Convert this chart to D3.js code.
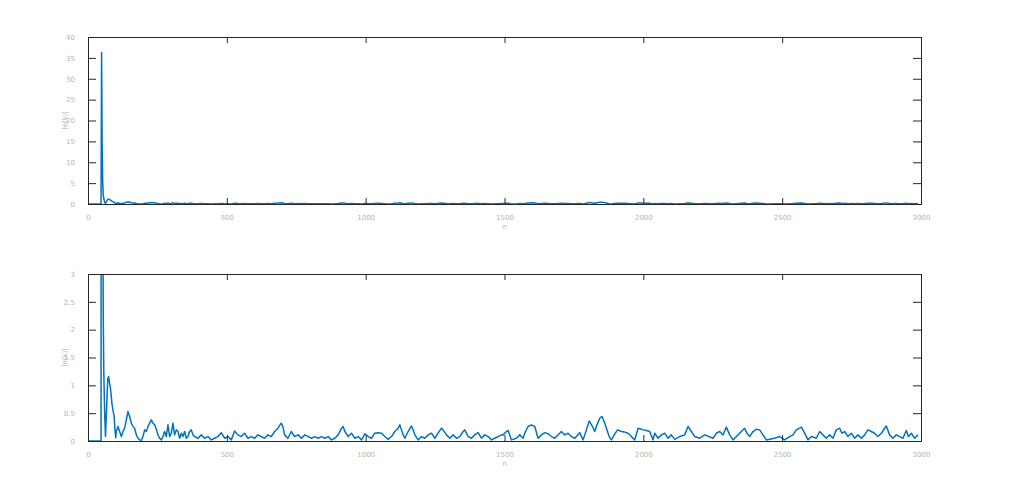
<!DOCTYPE html>
<html>
<head>
<meta charset="utf-8">
<script src="https://cdn.jsdelivr.net/npm/d3@7"></script>
<style>
html,body{margin:0;padding:0;background:#fff;}
svg{display:block;}
text{font-family:"DejaVu Sans",sans-serif;}
</style>
</head>
<body>
<svg id="chart" width="1009" height="495"></svg>
<script>
// sample index n
const sampleN = [
1,47,49,51,53,55,57,60,63,67,71,74,78,82,86,90,94,97,100,
102,108,114,120,126,132,138,144,150,156,162,168,174,180,186,192,198,
204,210,216,222,228,234,240,246,252,258,264,270,276,282,288,294,300,
306,312,318,324,330,336,342,348,354,360,366,372,378,384,396,408,420,
432,444,456,468,480,492,504,516,528,540,552,564,576,588,600,612,624,
636,648,660,672,684,696,702,708,720,732,744,
757,769,781,793,805,817,829,841,853,865,877,889,901,913,919,925,937,
949,961,973,985,997,1009,1021,1033,1045,1057,1069,1081,1093,1105,1117,
1123,1129,1135,1141,1153,1165,1171,1177,1189,1201,1213,1225,1237,1249,
1261,1273,1279,1291,1303,1315,1327,1339,1351,1357,1369,1381,1393,1405,
1417,1429,1441,1453,1465,1477,1489,
1495,1507,1513,1525,1543,1555,1567,1573,1585,1597,1609,1621,1633,1645,
1657,1669,1681,1699,1705,1717,1729,1741,1753,1771,1783,1795,1805,1817,
1825,1833,1843,1851,1859,1867,1877,1885,1895,1907,1921,1933,1945,1957,
1969,1981,1993,1999,2011,2023,2035,2041,2053,2065,2077,2089,2101,2113,
2131,2149,2161,2173,2185,2203,2221,
2251,2263,2275,2287,2299,2311,2323,2335,2353,2365,2373,2383,2395,2407,
2419,2431,2443,2455,2473,2491,2509,2527,2539,2551,2569,2581,2593,2605,
2623,2635,2647,2659,2671,2683,2695,2707,2715,2725,2737,2749,2761,2773,
2785,2797,2809,2821,2833,2845,2857,2875,2887,2899,2911,2923,2935,2947,
2955,2965,2977,2989,3000
];
// absolute error |e(k)|
const errorAbs = [
0,0,36.3,14,5,2.2,1.2,0.5,0.08,0.6,1.1,1.16,1.03,0.9,0.68,0.55,0.45,0.2,0.06,
0.17,0.26,0.17,0.08,0.17,0.23,0.38,0.53,0.44,0.32,0.26,0.23,0.11,0.05,0.02,0.01,0.08,
0.2,0.17,0.26,0.32,0.38,0.32,0.29,0.21,0.11,0.05,0.02,0.08,0.17,0.08,0.29,0.08,0.14,
0.32,0.11,0.2,0.17,0.05,0.14,0.08,0.17,0.05,0.08,0.17,0.2,0.11,0.08,0.05,0.11,0.05,
0.08,0.02,0.05,0.08,0.15,0.05,0.08,0.02,0.18,0.11,0.08,0.14,0.05,0.08,0.05,0.11,0.08,
0.05,0.11,0.08,0.17,0.23,0.32,0.26,0.11,0.05,0.17,0.08,
0.11,0.05,0.11,0.08,0.05,0.08,0.05,0.08,0.05,0.08,0.02,0.05,0.11,0.23,0.26,0.17,0.08,
0.14,0.05,0.08,0.02,0.13,0.08,0.05,0.14,0.15,0.14,0.08,0.03,0.08,0.17,0.23,
0.29,0.2,0.11,0.05,0.17,0.27,0.2,0.11,0.02,0.08,0.05,0.11,0.14,0.05,
0.14,0.23,0.2,0.11,0.05,0.11,0.05,0.08,0.17,0.2,0.08,0.05,0.11,0.15,
0.05,0.11,0.08,0.02,0.05,0.08,0.11,
0.11,0.17,0.19,0.02,0.05,0.11,0.05,0.14,0.26,0.29,0.26,0.05,0.11,0.15,
0.13,0.08,0.05,0.14,0.17,0.11,0.14,0.08,0.05,0.15,0.02,0.2,0.36,0.26,
0.17,0.29,0.41,0.44,0.35,0.23,0.08,0.02,0.11,0.2,0.17,0.16,0.14,0.08,
0.02,0.23,0.21,0.2,0.19,0.17,0.02,0.14,0.05,0.11,0.14,0.05,0.11,0.03,
0.08,0.11,0.26,0.17,0.08,0.05,
0.11,0.05,0.14,0.17,0.11,0.25,0.11,0.02,0.08,0.17,0.23,0.14,0.08,0.17,
0.21,0.2,0.11,0.02,0.03,0.05,0.08,0.02,0.08,0.11,0.2,0.25,0.14,0.02,
0.08,0.05,0.17,0.11,0.05,0.11,0.05,0.2,0.23,0.14,0.17,0.08,0.14,0.05,
0.11,0.05,0.11,0.2,0.17,0.14,0.08,0.14,0.27,0.11,0.05,0.11,0.08,0.05,
0.19,0.08,0.14,0.05,0.11
];
const xTicks = [0,500,1000,1500,2000,2500,3000];
const yTicksTop = [0,5,10,15,20,25,30,35,40];
const yTicksBottom = [0,0.5,1,1.5,2,2.5,3];
const yTickLabelsBottom = ["0","0.5","1","1.5","2","2.5","3"];
const yLabel = "|e(k)|";
const xLabel = "n";

const data = sampleN.map((n,i)=>({n:n, v:errorAbs[i]}));

const svg = d3.select("#chart");
const left = 88, right = 921;
const panels = [
  {top:37, bottom:204, domain:[0,40], ticks:yTicksTop, labels:yTicksTop.map(String), id:"c1"},
  {top:274, bottom:441, domain:[0,3], ticks:yTicksBottom, labels:yTickLabelsBottom, id:"c2"}
];
const textColor = "#b4b4b4";
const lineColor = "#0072BD";

panels.forEach(p=>{
  const x = d3.scaleLinear().domain([0,3000]).range([left,right]);
  const y = d3.scaleLinear().domain(p.domain).range([p.bottom,p.top]);
  const g = svg.append("g");

  g.append("clipPath").attr("id",p.id).append("rect")
    .attr("x",left).attr("y",p.top).attr("width",right-left).attr("height",p.bottom-p.top);

  // data line
  const line = d3.line().x(d=>x(d.n)).y(d=>y(d.v));
  g.append("path").datum(data)
    .attr("clip-path","url(#"+p.id+")")
    .attr("d",line).attr("fill","none")
    .attr("stroke",lineColor).attr("stroke-width",1.5)
    .attr("stroke-linejoin","round");

  // axes (inward ticks on all four sides)
  const axB = d3.axisBottom(x).tickValues(xTicks).tickSizeInner(-6).tickSizeOuter(0).tickPadding(11).tickFormat(d3.format("d"));
  const axT = d3.axisTop(x).tickValues(xTicks).tickSizeInner(-6).tickSizeOuter(0).tickFormat("");
  const axL = d3.axisLeft(y).tickValues(p.ticks).tickSizeInner(-8).tickSizeOuter(0).tickPadding(13).tickFormat((d,i)=>p.labels[i]);
  const axR = d3.axisRight(y).tickValues(p.ticks).tickSizeInner(-8).tickSizeOuter(0).tickFormat("");

  const gB = g.append("g").attr("transform",`translate(0,${p.bottom})`).call(axB);
  const gT = g.append("g").attr("transform",`translate(0,${p.top})`).call(axT);
  const gL = g.append("g").attr("transform",`translate(${left},0)`).call(axL);
  const gR = g.append("g").attr("transform",`translate(${right},0)`).call(axR);
  [gB,gT,gL,gR].forEach(a=>{
    a.select(".domain").remove();
    a.selectAll(".tick line").attr("stroke","#262626").attr("stroke-width",1);
    a.selectAll("text").attr("fill",textColor).attr("font-size",7).attr("font-family","DejaVu Sans, sans-serif");
  });
  // hide ticks at the box corners
  [gB,gT].forEach(a=>a.selectAll(".tick line").filter(d=>d===0||d===3000).remove());
  [gL,gR].forEach(a=>a.selectAll(".tick line").filter(d=>d===p.domain[0]||d===p.domain[1]).remove());

  // box
  g.append("rect").attr("x",left+0.5).attr("y",p.top+0.5)
    .attr("width",right-left).attr("height",p.bottom-p.top)
    .attr("fill","none").attr("stroke","#262626").attr("stroke-width",1);

  // labels
  g.append("text").attr("x",(left+right)/2).attr("y",p.bottom+25)
    .attr("text-anchor","middle").attr("fill",textColor).attr("font-size",7).text(xLabel);
  g.append("text").attr("transform",`translate(67,${(p.top+p.bottom)/2}) rotate(-90)`)
    .attr("text-anchor","middle").attr("fill",textColor).attr("font-size",7).text(yLabel);
});
</script>
</body>
</html>
